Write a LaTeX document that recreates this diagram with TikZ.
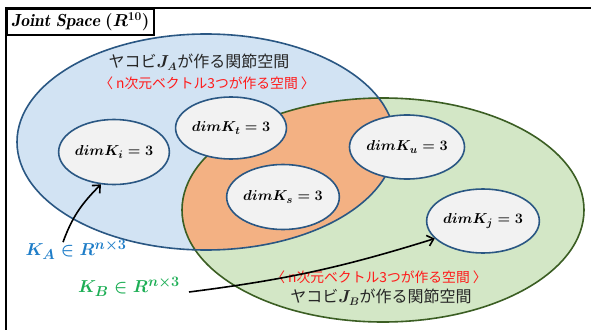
\documentclass[tikz,border=0pt]{standalone}
\usepackage{fontspec}
\newfontfamily\jp{Noto Sans CJK JP}
\usetikzlibrary{shapes.geometric,arrows.meta}
\definecolor{bfill}{HTML}{D2E3F3}
\definecolor{bline}{HTML}{2A5783}
\definecolor{gfill}{HTML}{D3E7C6}
\definecolor{gline}{HTML}{3B5E23}
\definecolor{ofill}{HTML}{F3B183}
\definecolor{kfill}{HTML}{F2F2F2}
\definecolor{kablue}{HTML}{1E7DC8}
\definecolor{kbgreen}{HTML}{1DAE55}
\definecolor{jred}{HTML}{FF1A1A}
\definecolor{jtext}{HTML}{262626}
\begin{document}
\begin{tikzpicture}[x=1pt,y=-1pt,
  kell/.style={ellipse, draw=bline, line width=1.6pt, fill=kfill, inner sep=0pt,
    minimum width=98pt, minimum height=65pt, font=\fontsize{15.2}{17}\selectfont\boldmath},
  arr/.style={line width=1.6pt, -{Straight Barb[length=6pt,width=11pt]}},
  jlabel/.style={font=\jp\fontsize{16}{19}\selectfont, text=jtext, inner sep=0pt},
  rlabel/.style={font=\jp\fontsize{13.8}{16}\selectfont, text=jred, inner sep=0pt},
  klabel/.style={font=\fontsize{19}{22}\selectfont\boldmath, inner sep=0pt}]
\useasboundingbox (0,0) rectangle (591,329);
% big sets
\fill[bfill] (206,142) ellipse [x radius=189pt, y radius=108pt];
\fill[gfill] (383,210) ellipse [x radius=201pt, y radius=112pt];
\begin{scope}
  \clip (206,142) ellipse [x radius=189pt, y radius=108pt];
  \fill[ofill] (383,210) ellipse [x radius=201pt, y radius=112pt];
\end{scope}
\draw[gline, line width=1.6pt] (383,210) ellipse [x radius=201pt, y radius=112pt];
\draw[bline, line width=1.6pt] (206,142) ellipse [x radius=189pt, y radius=108pt];
% frame
\draw[line width=2.5pt] (6,340) -- (6,8) -- (600,8);
\node[draw, line width=2pt, fill=white, anchor=north west, minimum width=147pt,
  minimum height=26pt, inner sep=0pt, font=\fontsize{17.5}{20}\selectfont\boldmath]
  (title) at (6,8) {$\mathit{Joint\ Space}\ (R^{10})$};
% labels
\node[jlabel] (ja) at (199,62) {ヤコビ{\boldmath$J_A$}が作る関節空間};
\node[rlabel] (ra) at (207,83) {〈 n次元ベクトル3つが作る空間 〉};
\node[rlabel] (rb) at (379,277) {〈 n次元ベクトル3つが作る空間 〉};
\node[jlabel] (jb) at (381,297) {ヤコビ{\boldmath$J_B$}が作る関節空間};
% subspaces
\node[kell] (Ki) at (114,152) {$dimK_i = 3$};
\node[kell, minimum width=96pt, minimum height=62pt] (Kt) at (231,128) {$dimK_t = 3$};
\node[kell] (Ks) at (283,197) {$dimK_s = 3$};
\node[kell, minimum height=64pt] (Ku) at (407,147) {$dimK_u = 3$};
\node[kell, minimum width=97pt, minimum height=64pt] (Kj) at (483,221) {$dimK_j = 3$};
% matrices
\node[klabel, text=kablue] (KA) at (76,250) {$K_A \in R^{n\times 3}$};
\node[klabel, text=kbgreen] (KB) at (129,287) {$K_B \in R^{n\times 3}$};
\draw[arr] ([xshift=-13pt,yshift=-2pt]KA.north) to[out=70,in=225] (Ki.-112);
\draw[arr] ([xshift=9pt,yshift=-5pt]KB.east) to[bend right=5] (Kj.200);
\end{tikzpicture}
\end{document}
